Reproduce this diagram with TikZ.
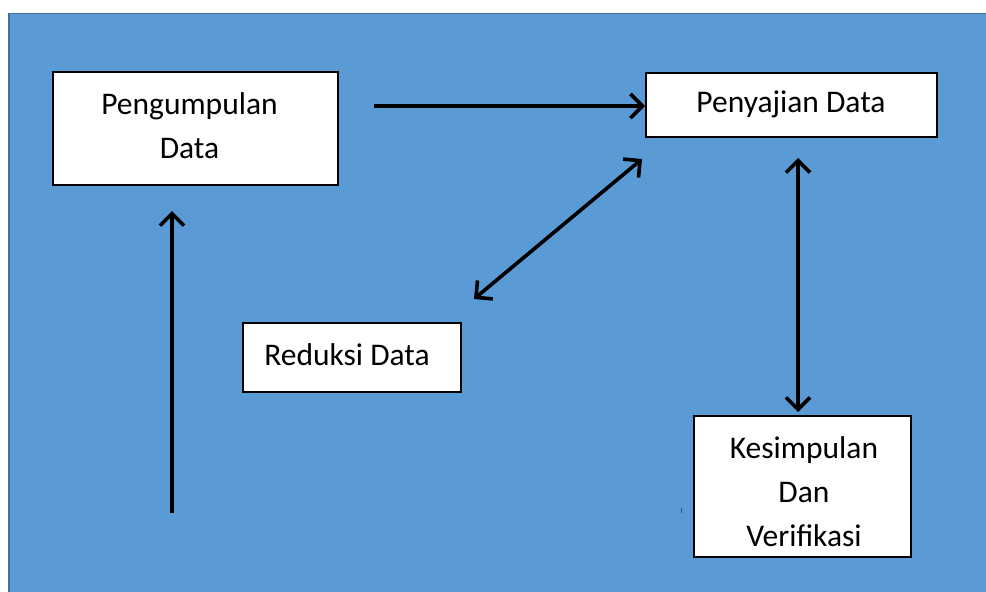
\documentclass[tikz,border=0pt]{standalone}
\usepackage{fontspec}
\setmainfont{Carlito}
\usetikzlibrary{arrows.meta}
\definecolor{bgblue}{HTML}{5B9BD5}
\definecolor{bgedge}{HTML}{41719C}
\begin{document}
\begin{tikzpicture}[x=1pt,y=-1pt,
  box/.style={draw=black,line width=1.2pt,fill=white,inner sep=0pt},
  lbl/.style={font=\fontsize{31.5}{44}\selectfont,align=center,inner sep=0pt},
  tip/.style={},
  conn/.style={line width=3.6pt,-{Straight Barb[length=12pt,width=24pt,line width=3.6pt]}},
  dconn/.style={line width=3.6pt,{Straight Barb[length=12pt,width=24pt,line width=3.6pt]}-{Straight Barb[length=12pt,width=24pt,line width=3.6pt]}}]
\useasboundingbox (0,0) rectangle (986,592);
\fill[white] (0,0) rectangle (986,592);
\fill[bgblue] (9,13) rectangle (986,592);
\draw[bgedge,line width=1.5pt] (9,592) -- (9,13.5) -- (986,13.5);
% boxes
\node[box,minimum width=285pt,minimum height=113pt] (pd) at (195.5,128.5) {};
\node[lbl] (pdt) at (189.5,125.5) {Pengumpulan\\Data};
\node[box,minimum width=291pt,minimum height=64pt] (ps) at (791.5,105) {};
\node[lbl] (pst) at (791,104) {Penyajian Data};
\node[box,minimum width=218pt,minimum height=69pt] (rd) at (352,357.5) {};
\node[lbl] (rdt) at (347,355) {Reduksi Data};
\node[box,minimum width=217pt,minimum height=141pt] (kv) at (802.5,486.5) {};
\node[lbl] (kvt) at (804,491.5) {Kesimpulan\\Dan\\Verifikasi};
% connectors
\coordinate (h1) at (374,106);
\coordinate (h2) at (645,106);
\draw[conn] (h1) -- (h2);
\coordinate (d1) at (474,299);
\coordinate (d2) at (642,159);
\draw[dconn] (d1) -- (d2);
\coordinate (v1) at (798,158);
\coordinate (v2) at (798,412);
\draw[dconn] (v1) -- (v2);
\coordinate (u1) at (172,513);
\coordinate (u2) at (172,211);
\draw[conn] (u1) -- (u2);
\coordinate (t1) at (681,508);
\coordinate (t2) at (681,513);
\draw[bgedge!70!black,line width=1pt] (t1) -- (t2);
\end{tikzpicture}
\end{document}
